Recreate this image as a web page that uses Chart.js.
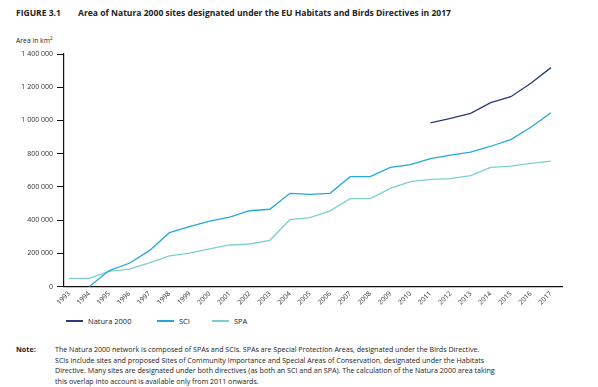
<!DOCTYPE html>
<html>
<head>
<meta charset="utf-8">
<script src="https://cdn.jsdelivr.net/npm/chart.js@4"></script>
<style>
  body { margin: 0; width: 598px; height: 387px; background: #fff; font-family: "Open Sans", sans-serif; color: #222; position: relative; overflow: hidden; }
  .abs { position: absolute; white-space: nowrap; }
  #fig { left: 16px; top: 7px; font-size: 8.5px; font-weight: bold; }
  #title { left: 78px; top: 7px; font-size: 8.55px; font-weight: bold; }
  #unit { left: 16px; top: 35px; font-size: 6.8px; }
  #wrap { position: absolute; left: 0; top: 40px; width: 598px; height: 276px; }
  .leg { top: 316px; font-size: 7.5px; }
  .leg span { display: inline-block; width: 17px; height: 1.2px; vertical-align: middle; margin-right: 5px; position: relative; top: -1px; }
  #noteh { left: 16px; top: 344px; font-size: 7.2px; font-weight: bold; }
  #note { left: 55px; top: 344px; font-size: 7.1px; line-height: 10.7px; }
</style>
</head>
<body>
<div class="abs" id="fig">FIGURE 3.1</div>
<div class="abs" id="title">Area of Natura 2000 sites designated under the EU Habitats and Birds Directives in 2017</div>
<div class="abs" id="unit">Area in km<sup style="font-size:4.5px">2</sup></div>
<div id="wrap"><canvas id="chart"></canvas></div>
<div class="abs leg" style="left:66px"><span style="background:#2b3a7a"></span>Natura 2000</div>
<div class="abs leg" style="left:157px"><span style="background:#24a9d6"></span>SCI</div>
<div class="abs leg" style="left:212px"><span style="background:#7dcfd0"></span>SPA</div>
<div class="abs" id="noteh">Note:</div>
<div class="abs" id="note">The Natura 2000 network is composed of SPAs and SCIs. SPAs are Special Protection Areas, designated under the Birds Directive.<br>SCIs include sites and proposed Sites of Community Importance and Special Areas of Conservation, designated under the Habitats<br>Directive. Many sites are designated under both directives (as both an SCI and an SPA). The calculation of the Natura 2000 area taking<br>this overlap into account is available only from 2011 onwards.</div>
<script>
  // Số liệu
  const years = [1993, 1994, 1995, 1996, 1997, 1998, 1999, 2000, 2001, 2002, 2003, 2004, 2005,
    2006, 2007, 2008, 2009, 2010, 2011, 2012, 2013, 2014, 2015, 2016, 2017];
  const natura2000 = [null, null, null, null, null, null, null, null, null, null, null, null, null,
    null, null, null, null, null, 985000, 1013000, 1043000, 1107000, 1143000, 1224000, 1318000];
  const sci = [null, 0, 97000, 141000, 217000, 325000, 362000, 395000, 419000, 457000, 466000, 562000, 556000,
    562000, 662000, 662000, 718000, 734000, 770000, 792000, 810000, 845000, 885000, 959000, 1047000];
  const spa = [50000, 50000, 92000, 106000, 143000, 185000, 202000, 227000, 251000, 257000, 279000, 403000, 415000,
    456000, 530000, 530000, 592000, 632000, 646000, 650000, 668000, 718000, 726000, 742000, 756000];
  const yTicks = [0, 200000, 400000, 600000, 800000, 1000000, 1200000, 1400000];

  const toPoints = (arr) => years.map((yr, i) => ({ x: yr, y: arr[i] }));
  const fmt = (v) => String(v).replace(/\B(?=(\d{3})+(?!\d))/g, " ");

  function makeSet(label, arr, color) {
    return {
      label: label,
      data: toPoints(arr),
      borderColor: color,
      backgroundColor: color,
      borderWidth: 1.3,
      pointRadius: 0,
      tension: 0,
      spanGaps: false,
    };
  }

  new Chart(document.getElementById("chart"), {
    type: "line",
    data: {
      datasets: [
        makeSet("Natura 2000", natura2000, "#2b3a7a"),
        makeSet("SCI", sci, "#24a9d6"),
        makeSet("SPA", spa, "#7dcfd0"),
      ],
    },
    options: {
      responsive: true,
      maintainAspectRatio: false,
      animation: false,
      layout: { padding: { top: 14, right: 36, left: 0, bottom: 0 } },
      plugins: { legend: { display: false }, tooltip: { enabled: false } },
      scales: {
        x: {
          type: "linear",
          min: 1992.75,
          max: 2017.55,
          afterFit: (s) => { s.height = 29.3; },
          afterBuildTicks: (s) => { s.ticks = years.map((v) => ({ value: v })); },
          grid: { display: false, drawTicks: false },
          border: { color: "#111", width: 1.2 },
          ticks: {
            autoSkip: false,
            minRotation: 45,
            maxRotation: 45,
            padding: 3,
            color: "#333",
            font: { family: "Open Sans", size: 6.8 },
            callback: (v) => String(v),
          },
        },
        y: {
          min: 0,
          max: 1400000,
          afterFit: (s) => { s.width = 64; },
          afterBuildTicks: (s) => { s.ticks = yTicks.map((v) => ({ value: v })); },
          grid: { drawOnChartArea: false, tickLength: 7, color: "#111", tickWidth: 1 },
          border: { color: "#111", width: 1.2 },
          ticks: {
            padding: 4,
            color: "#333",
            font: { family: "Open Sans", size: 7 },
            callback: (v) => fmt(v),
          },
        },
      },
    },
  });
</script>
</body>
</html>
